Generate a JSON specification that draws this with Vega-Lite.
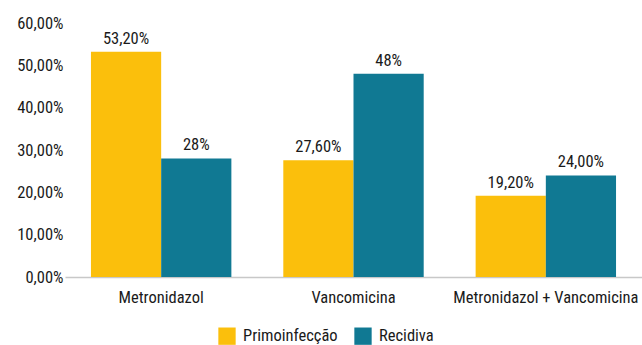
{
  "$schema": "https://vega.github.io/schema/vega-lite/v6.json",
  "width": 577,
  "height": 254,
  "autosize": {"type": "none"},
  "padding": {"left": 65, "top": 23, "right": 0, "bottom": 68},
  "background": "white",
  "config": {
    "view": {"stroke": null},
    "font": "Liberation Sans Narrow, Roboto Condensed, Liberation Sans, sans-serif"
  },
  "data": {
    "values": [
      {"tratamento": "Metronidazol", "grupo": "Primoinfecção", "valor": 53.2, "rotulo": "53,20%"},
      {"tratamento": "Metronidazol", "grupo": "Recidiva", "valor": 28, "rotulo": "28%"},
      {"tratamento": "Vancomicina", "grupo": "Primoinfecção", "valor": 27.6, "rotulo": "27,60%"},
      {"tratamento": "Vancomicina", "grupo": "Recidiva", "valor": 48, "rotulo": "48%"},
      {"tratamento": "Metronidazol + Vancomicina", "grupo": "Primoinfecção", "valor": 19.2, "rotulo": "19,20%"},
      {"tratamento": "Metronidazol + Vancomicina", "grupo": "Recidiva", "valor": 24, "rotulo": "24,00%"}
    ]
  },
  "encoding": {
    "x": {
      "field": "tratamento",
      "type": "nominal",
      "sort": null,
      "title": null,
      "scale": {"paddingInner": 0.27, "paddingOuter": 0.135},
      "axis": {
        "labelAngle": 0,
        "labelFontSize": 16.5,
        "labelColor": "#1a1a1a",
        "labelPadding": 12,
        "labelLimit": 0,
        "labelOverlap": false,
        "ticks": false,
        "domainColor": "#C8C8C8",
        "domainWidth": 1.5,
        "grid": false
      }
    },
    "xOffset": {"field": "grupo", "type": "nominal", "sort": ["Primoinfecção", "Recidiva"]},
    "y": {
      "field": "valor",
      "type": "quantitative",
      "title": null,
      "scale": {"domain": [0, 60], "nice": false},
      "axis": {
        "values": [0, 10, 20, 30, 40, 50, 60],
        "labelExpr": "replace(format(datum.value, '.2f'), '.', ',') + '%'",
        "labelFontSize": 16.5,
        "labelColor": "#1a1a1a",
        "labelPadding": 2,
        "ticks": false,
        "domain": false,
        "grid": false
      }
    }
  },
  "layer": [
    {
      "mark": {"type": "bar"},
      "encoding": {
        "color": {
          "field": "grupo",
          "type": "nominal",
          "sort": ["Primoinfecção", "Recidiva"],
          "scale": {"domain": ["Primoinfecção", "Recidiva"], "range": ["#FBBF0C", "#107993"]},
          "legend": {
            "title": null,
            "orient": "none",
            "legendX": 153,
            "legendY": 304,
            "direction": "horizontal",
            "symbolType": "square",
            "symbolSize": 300,
            "symbolStrokeWidth": 0,
            "labelFontSize": 16.5,
            "labelColor": "#1a1a1a",
            "labelOffset": 7,
            "columnPadding": 16,
            "padding": 0
          }
        }
      }
    },
    {
      "mark": {"type": "text", "baseline": "bottom", "dy": -5, "fontSize": 16.5, "color": "#1a1a1a"},
      "encoding": {
        "text": {"field": "rotulo", "type": "nominal"}
      }
    }
  ]
}
